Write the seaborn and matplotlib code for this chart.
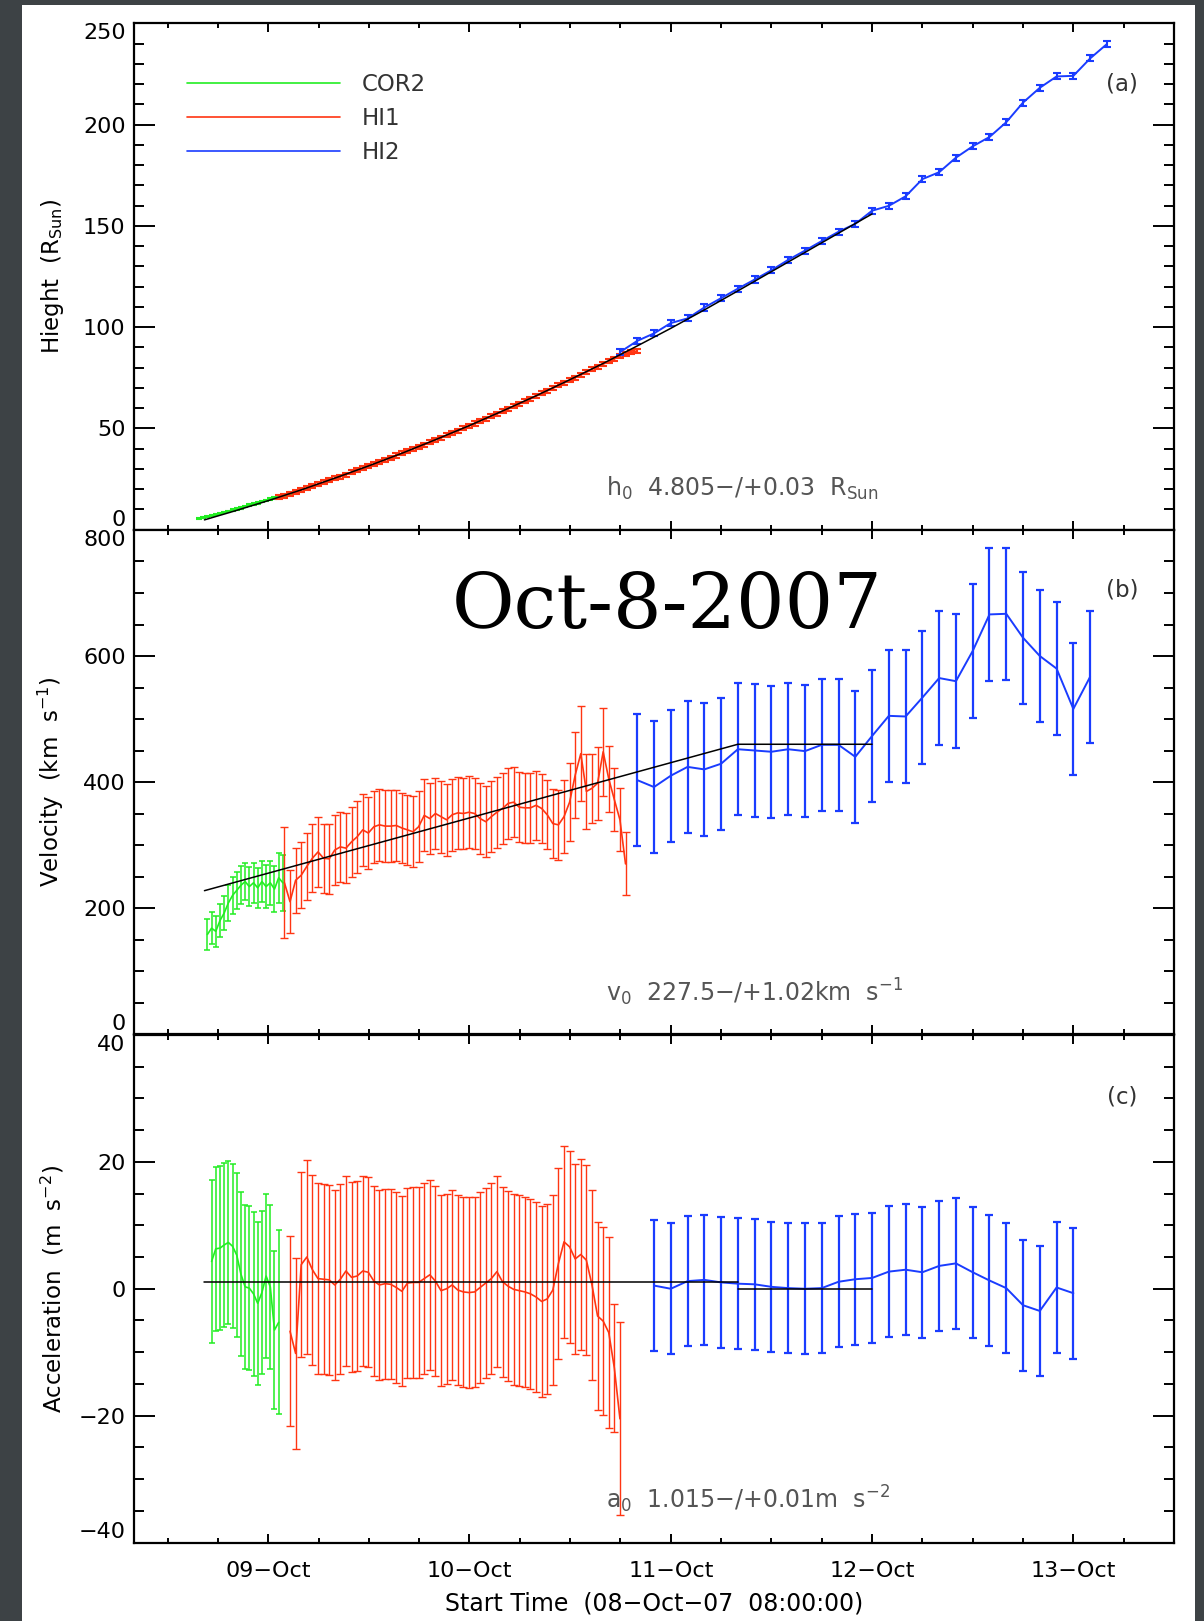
import numpy as np
import pandas as pd
import matplotlib
matplotlib.use("Agg")
import matplotlib.pyplot as plt
import seaborn as sns
from matplotlib.patches import Rectangle
from matplotlib.lines import Line2D
from matplotlib.ticker import FixedLocator, MultipleLocator

# ---------------- data (time = hours since 08-Oct-07 08:00:00) ----------------
x_range = [0, 124]
day_ticks = [16, 40, 64, 88, 112]
day_labels = ["09\u2212Oct", "10\u2212Oct", "11\u2212Oct", "12\u2212Oct", "13\u2212Oct"]
six_hour_ticks = [4, 10, 16, 22, 28, 34, 40, 46, 52, 58, 64, 70, 76, 82, 88,
                  94, 100, 106, 112, 118, 124]

# sampling times of each instrument (start, cadence in hours, count)
cor2_t = np.round(7.75 + 0.5 * np.arange(23), 3)
hi1_t = np.round(17.27 + 0.6667 * np.arange(65), 3)
hi2_t = np.array([58, 60, 62, 64, 66, 68, 70, 72, 74, 76, 78, 80, 82, 84, 86,
                  88, 90, 92, 94, 96, 98, 100, 102, 104, 106, 108, 110, 112, 114, 116])

# ---- height (R_Sun)
cor2_h = [5.5, 5.9, 6.4, 6.9, 7.4, 8.0, 8.5, 9.0, 9.6, 10.2, 10.8, 11.4, 12.0,
          12.6, 13.2, 13.8, 14.4, 15.0, 15.6, 16.2, 16.8, 17.4, 18.0]
cor2_h_err = [0.4] * 23
hi1_h = [15.9, 16.8, 17.7, 18.6, 19.6, 20.5, 21.4, 22.4, 23.3, 24.3,
         25.3, 26.2, 27.2, 28.3, 29.3, 30.3, 31.3, 32.3, 33.4, 34.4,
         35.5, 36.6, 37.6, 38.7, 39.8, 40.9, 42.0, 43.1, 44.3, 45.4,
         46.5, 47.7, 48.8, 50.0, 51.2, 52.4, 53.6, 54.8, 56.0, 57.2,
         58.4, 59.7, 60.9, 62.2, 63.4, 64.7, 66.0, 67.3, 68.6, 69.9,
         71.2, 72.5, 73.8, 75.1, 76.5, 77.8, 79.2, 80.5, 81.8, 83.1,
         84.4, 85.6, 86.7, 87.5, 88.1]
hi1_h_err = [1.0] * 65
hi2_h = [87.8, 93.2, 96.9, 102.0, 104.3, 109.7, 114.3, 119.0, 123.5, 128.1,
         133.2, 137.8, 142.5, 147.1, 151.0, 157.5, 159.9, 164.6, 173.1, 176.5,
         183.7, 189.3, 193.9, 201.2, 210.9, 218.2, 223.8, 224.1, 232.7, 239.8]
hi2_h_err = [1.5] * 30

# ---- velocity (km/s)
cor2_v = [158, 168, 163, 180, 192, 208, 220, 228, 236, 242, 234, 240, 232, 242,
          234, 240, 230, 248, 240]
cor2_v_err = [24, 25, 25, 26, 27, 28, 29, 29, 30, 30, 31, 32, 32, 33, 34, 35, 36, 40, 44]
hi1_v = [240, 210, 244, 252, 266, 279, 289, 279, 278, 292,
         297, 295, 305, 313, 324, 319, 329, 332, 330, 330,
         331, 327, 324, 321, 329, 347, 342, 350, 345, 340,
         348, 351, 350, 352, 350, 342, 337, 345, 352, 358,
         366, 368, 360, 359, 359, 363, 358, 348, 334, 332,
         345, 368, 411, 445, 385, 390, 398, 448, 405, 372,
         340, 270]
hi1_v_err = [88, 50, 52, 52, 53, 54, 55, 55, 55, 56,
             56, 56, 56, 57, 57, 57, 57, 57, 57, 57,
             57, 56, 56, 56, 56, 57, 57, 57, 57, 57,
             57, 57, 57, 57, 57, 57, 56, 56, 56, 56,
             56, 56, 56, 56, 56, 55, 55, 55, 55, 56,
             58, 62, 68, 75, 60, 55, 58, 70, 52, 50,
             50, 50]
hi2_v = [403, 392, 410, 424, 420, 429, 452, 450, 448, 452,
         449, 459, 459, 440, 473, 505, 504, 534, 565, 560,
         608, 666, 667, 629, 600, 580, 516, 567]
hi2_v_err = [105, 105, 105, 105, 105, 105, 105, 105, 105, 105,
             105, 105, 105, 105, 105, 105, 105, 105, 106, 106,
             106, 105, 105, 105, 105, 105, 105, 105]

# ---- acceleration (m/s^2)
cor2_a = [4.3, 6.3, 6.4, 6.9, 7.3, 6.7, 5.3, 2.3, 0.3, 0.1, -0.8, -2.3, -0.6,
          2.0, 0.3, -6.5, -5.3]
cor2_a_err = [12.9, 12.9, 12.9, 12.9, 12.9, 12.9, 12.9, 12.9, 12.9, 12.9,
              12.9, 12.9, 12.9, 12.9, 12.9, 12.5, 14.5]
hi1_a = [-6.7, -10.2, 3.8, 5.0, 3.0, 1.6, 1.5, 1.4, 0.6, 1.5,
         2.8, 1.8, 2.0, 2.8, 2.6, 1.2, 0.6, 0.8, 0.7, 0.2,
         -0.4, 0.9, 1.0, 1.0, 1.6, 2.2, 1.2, -0.3, 0.0, 0.6,
         -0.2, -0.5, -0.6, -0.5, 0.2, 0.9, 1.6, 2.7, 1.1, 0.4,
         -0.1, -0.3, -0.5, -0.8, -1.3, -2.0, -1.6, -0.2, 4.0, 7.4,
         6.6, 4.7, 5.4, 4.5, 0.6, -4.3, -5.1, -6.9, -12.5, -20.5]
hi1_a_err = [15.0, 15.1, 14.6, 15.3, 15.0, 15.0, 15.0, 15.0, 15.0, 15.0,
             15.0, 15.0, 15.0, 15.0, 15.0, 15.0, 15.0, 15.0, 15.0, 15.0,
             15.0, 15.0, 15.0, 15.0, 15.0, 15.0, 15.0, 15.0, 15.0, 15.0,
             15.0, 15.0, 15.0, 15.0, 15.0, 15.0, 15.0, 15.0, 15.0, 15.0,
             15.0, 15.0, 15.0, 15.0, 15.0, 15.0, 15.0, 15.0, 15.0, 15.1,
             15.1, 15.0, 15.0, 15.0, 15.0, 14.8, 14.8, 15.0, 10.1, 15.2]
hi2_a = [0.5, 0.0, 1.2, 1.4, 1.0, 0.8, 0.7, 0.3, 0.1, 0.0,
         0.1, 1.1, 1.5, 1.7, 2.7, 3.0, 2.6, 3.6, 4.0, 2.6,
         1.3, 0.1, -2.6, -3.5, 0.2, -0.7]
hi2_a_err = [10.3] * 26

# ---- fitted kinematic model
fit_h_t = [8.4, 12, 16, 20, 24, 28, 32, 36, 40, 44, 48, 52, 56, 60, 64, 68, 72, 80, 88]
fit_h = [4.8, 9.2, 14.3, 19.7, 25.5, 31.5, 37.8, 44.5, 51.4, 58.7, 66.2, 74.1,
         82.2, 90.7, 99.4, 108.5, 117.9, 136.9, 155.9]
fit_v_t = [8.4, 72, 88]
fit_v = [227.5, 459.9, 459.9]
fit_a1_t = [8.4, 72]
fit_a1 = [1.015, 1.015]
fit_a2_t = [72, 88]
fit_a2 = [0.0, 0.0]

labels_inst = ["COR2", "HI1", "HI2"]
colors = {"COR2": "#22ee22", "HI1": "#ff3512", "HI2": "#1a3cff"}

yticks_h = [0, 50, 100, 150, 200, 250]
yticks_v = [0, 200, 400, 600, 800]
yticks_a = [-40, -20, 0, 20, 40]

# ---------------- style ----------------
sns.set_theme(style="ticks")
plt.rcParams["font.family"] = ["DejaVu Sans"]
plt.rcParams["mathtext.fontset"] = "dejavusans"
plt.rcParams["axes.unicode_minus"] = True

W, H = 1204, 1621
fig = plt.figure(figsize=(W / 100, H / 100), dpi=100, facecolor="#3d4245")
fig.patches.append(Rectangle((22 / W, 0), (1195 - 22) / W, (H - 5) / H,
                             transform=fig.transFigure, facecolor="white",
                             edgecolor="none", zorder=-10))

left, width = 134 / W, 1040 / W
def frac(top_px, bot_px):
    return [left, 1 - bot_px / H, width, (bot_px - top_px) / H]

ax_h = fig.add_axes(frac(23.4, 529.6))
ax_v = fig.add_axes(frac(530.0, 1034.0))
ax_a = fig.add_axes(frac(1035.0, 1542.5))

def draw_series(ax, t, y, err, color, lw, elw, cap):
    df = pd.DataFrame({"t": t, "y": y})
    sns.lineplot(data=df, x="t", y="y", ax=ax, color=color, linewidth=lw,
                 estimator=None, sort=False, legend=False, zorder=3)
    ax.errorbar(t, y, yerr=err, fmt="none", ecolor=color, elinewidth=elw,
                capsize=cap, capthick=elw, zorder=3)

def draw_fit(ax, t, y):
    df = pd.DataFrame({"t": t, "y": y})
    sns.lineplot(data=df, x="t", y="y", ax=ax, color="black", linewidth=1.1,
                 estimator=None, sort=False, legend=False, zorder=4)

# panel (a) height
draw_series(ax_h, cor2_t, cor2_h, cor2_h_err, colors["COR2"], 1.5, 1.5, 2.2)
draw_series(ax_h, hi1_t, hi1_h, hi1_h_err, colors["HI1"], 1.5, 1.5, 2.8)
draw_series(ax_h, hi2_t, hi2_h, hi2_h_err, colors["HI2"], 1.4, 1.5, 3.2)
draw_fit(ax_h, fit_h_t, fit_h)

# panel (b) velocity
draw_series(ax_v, cor2_t[2:21], cor2_v, cor2_v_err, colors["COR2"], 1.2, 1.1, 2.2)
draw_series(ax_v, hi1_t[1:63], hi1_v, hi1_v_err, colors["HI1"], 1.2, 1.0, 2.6)
draw_series(ax_v, hi2_t[1:29], hi2_v, hi2_v_err, colors["HI2"], 1.4, 1.6, 3.2)
draw_fit(ax_v, fit_v_t, fit_v)

# panel (c) acceleration
draw_series(ax_a, cor2_t[3:20], cor2_a, cor2_a_err, colors["COR2"], 1.2, 1.1, 2.2)
draw_series(ax_a, hi1_t[2:62], hi1_a, hi1_a_err, colors["HI1"], 1.2, 1.0, 2.6)
draw_series(ax_a, hi2_t[2:28], hi2_a, hi2_a_err, colors["HI2"], 1.4, 1.6, 3.2)
draw_fit(ax_a, fit_a1_t, fit_a1)
draw_fit(ax_a, fit_a2_t, fit_a2)

# axes formatting
ylims = [(0, 250), (0, 800), (-40, 40)]
ymaj = [yticks_h, yticks_v, yticks_a]
ymin = [10, 50, 5]
ylabels = [r"Hieght  (R$_{\mathrm{Sun}}$)", r"Velocity  (km  s$^{-1}$)",
           r"Acceleration  (m  s$^{-2}$)"]
for ax, yl, mj, mn, lab in zip([ax_h, ax_v, ax_a], ylims, ymaj, ymin, ylabels):
    ax.set_facecolor("white")
    ax.set_xlim(*x_range)
    ax.set_ylim(*yl)
    ax.xaxis.set_major_locator(FixedLocator(day_ticks))
    ax.xaxis.set_minor_locator(FixedLocator(six_hour_ticks))
    ax.yaxis.set_major_locator(FixedLocator(mj))
    ax.yaxis.set_minor_locator(MultipleLocator(mn))
    ax.tick_params(axis="both", which="both", direction="in", top=True,
                   right=True, colors="black")
    ax.tick_params(axis="y", which="major", length=15, width=1.4, pad=6,
                   labelsize=16)
    ax.tick_params(axis="y", which="minor", length=7.5, width=1.4)
    ax.tick_params(axis="x", which="major", length=6.5, width=1.4, pad=13,
                   labelsize=16)
    ax.tick_params(axis="x", which="minor", length=3.3, width=1.4)
    for s in ax.spines.values():
        s.set_linewidth(1.6)
        s.set_color("black")
    ax.set_ylabel(lab, fontsize=16.5, color="black")
    ax.yaxis.set_label_coords(-0.065, 0.5)
    ax.set_xlabel("")
    if ax is not ax_a:
        ax.set_xticklabels([])
    # keep the extreme y labels inside the panel, as in the original
    mt = ax.yaxis.get_major_ticks()
    mt[0].label1.set_verticalalignment("bottom")
    mt[-1].label1.set_verticalalignment("top")

ax_a.set_xticklabels(day_labels)
ax_a.set_xlabel("Start Time  (08\u2212Oct\u221207  08:00:00)", fontsize=17, color="black")
ax_a.xaxis.set_label_coords(0.5, -0.0956)

# legend
handles = [Line2D([0], [0], color=colors[k], lw=1.2) for k in labels_inst]
ax_h.legend(handles, labels_inst, loc="upper left", bbox_to_anchor=(0.0508, 0.902),
            frameon=False, fontsize=16.5, labelcolor="#333333", borderpad=0,
            borderaxespad=0, handlelength=6.68, handletextpad=0.96,
            labelspacing=0.49)

# panel letters
for ax, txt, yy in [(ax_h, "(a)", 0.8795), (ax_v, "(b)", 0.881), (ax_a, "(c)", 0.878)]:
    ax.text(0.95, yy, txt, transform=ax.transAxes, ha="center", va="center",
            fontsize=16.5, color="#333333")

# fit parameter annotations
ann_color = "#555555"
ax_h.text(0.4538, 0.0664, "h$_{0}$  4.805\u2212/+0.03  R$_{\\mathrm{Sun}}$",
          transform=ax_h.transAxes, ha="left", va="baseline", fontsize=17, color=ann_color)
ax_v.text(0.4538, 0.0655, "v$_{0}$  227.5\u2212/+1.02km  s$^{-1}$",
          transform=ax_v.transAxes, ha="left", va="baseline", fontsize=17, color=ann_color)
ax_a.text(0.4538, 0.0668, "a$_{0}$  1.015\u2212/+0.01m  s$^{-2}$",
          transform=ax_a.transAxes, ha="left", va="baseline", fontsize=17, color=ann_color)

# big date title
fig.text(667 / W, 1 - 607 / H, "Oct-8-2007", ha="center", va="center",
         fontsize=55, family="DejaVu Serif", color="black")

fig.savefig("out.png", dpi=100, facecolor=fig.get_facecolor())
